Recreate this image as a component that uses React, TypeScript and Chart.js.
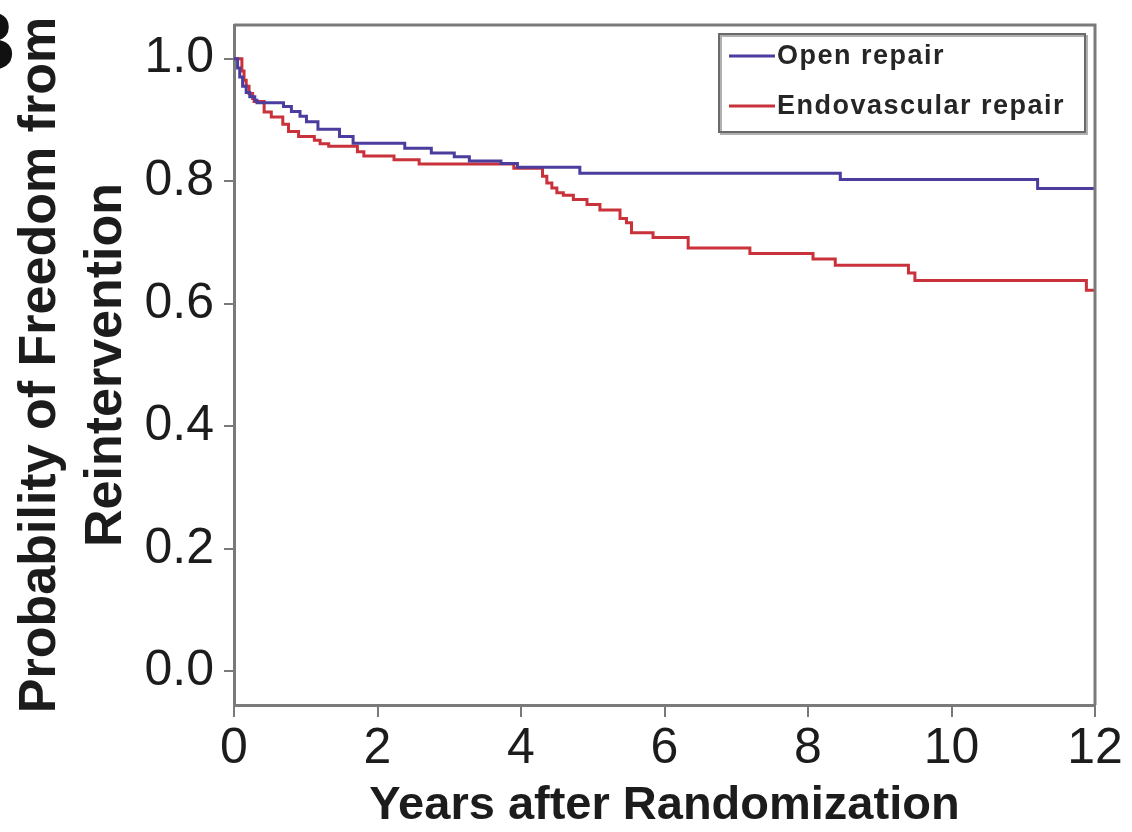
import React, { useEffect, useRef } from "react";
import { Chart, registerables } from "chart.js";

Chart.register(...registerables);

// ---- data (Kaplan-Meier step values) ----
const seriesNames = ["Open repair", "Endovascular repair"];

const openTimes = [0, 0.05, 0.08, 0.12, 0.17, 0.22, 0.29, 0.32, 0.69, 0.8, 0.92, 1.01, 1.17, 1.47, 1.66, 2.38, 2.75, 3.07, 3.28, 3.72, 3.95, 4.82, 8.45, 11.2, 12];
const openSurv = [1.0, 0.985, 0.97, 0.955, 0.945, 0.938, 0.932, 0.928, 0.922, 0.914, 0.906, 0.897, 0.885, 0.873, 0.862, 0.854, 0.846, 0.84, 0.833, 0.829, 0.823, 0.813, 0.803, 0.788, 0.788];

const endoTimes = [0, 0.11, 0.14, 0.17, 0.21, 0.26, 0.28, 0.42, 0.52, 0.68, 0.76, 0.9, 1.12, 1.2, 1.32, 1.72, 1.81, 2.23, 2.58, 3.9, 4.3, 4.36, 4.43, 4.5, 4.59, 4.73, 4.92, 5.1, 5.38, 5.47, 5.54, 5.84, 6.33, 7.19, 8.07, 8.38, 9.4, 9.49, 11.88, 12];
const endoSurv = [1.0, 0.98, 0.965, 0.955, 0.943, 0.935, 0.93, 0.913, 0.905, 0.893, 0.881, 0.873, 0.867, 0.861, 0.857, 0.848, 0.841, 0.835, 0.828, 0.821, 0.808, 0.797, 0.789, 0.781, 0.777, 0.77, 0.762, 0.753, 0.739, 0.732, 0.716, 0.708, 0.691, 0.682, 0.673, 0.663, 0.65, 0.638, 0.622, 0.622];

const xTicks = [0, 2, 4, 6, 8, 10, 12];
const yTicks = [0, 0.2, 0.4, 0.6, 0.8, 1.0];
const xTitle = "Years after Randomization";
const yTitle = ["Probability of Freedom from", "Reintervention"];
const panelLabel = "B";

// ---- styles ----
const BLUE = "#4a3d9e";
const RED = "#c9323b";
const AXIS = "#7a7a7a";
const TEXT = "#1c1c1c";
const FONT = '"Liberation Sans", Arial, Helvetica, sans-serif';
const COLORS = [BLUE, RED];

const decorPlugin = {
  id: "decor",
  afterDraw(chart: any) {
    const { ctx, chartArea: a } = chart;
    ctx.save();
    // top and right frame
    ctx.strokeStyle = AXIS;
    ctx.lineWidth = 3;
    ctx.beginPath();
    ctx.moveTo(a.left, a.top);
    ctx.lineTo(a.right, a.top);
    ctx.lineTo(a.right, a.bottom);
    ctx.stroke();

    // legend box
    const bw = 366;
    const bh = 98;
    const bx = a.right - 10 - bw;
    const by = a.top + 9;
    ctx.fillStyle = "#ffffff";
    ctx.fillRect(bx, by, bw, bh);
    ctx.strokeStyle = "#b0b0b0";
    ctx.lineWidth = 2;
    ctx.strokeRect(bx + 2, by + 2, bw, bh);
    ctx.strokeStyle = "#6a6a6a";
    ctx.lineWidth = 2;
    ctx.strokeRect(bx, by, bw, bh);

    ctx.font = `bold 27px ${FONT}`;
    (ctx as any).letterSpacing = "1.5px";
    ctx.textBaseline = "middle";
    ctx.textAlign = "left";
    seriesNames.forEach((name, i) => {
      const y = by + 22 + i * 50;
      ctx.strokeStyle = COLORS[i];
      ctx.lineWidth = 3;
      ctx.beginPath();
      ctx.moveTo(bx + 10, y);
      ctx.lineTo(bx + 56, y);
      ctx.stroke();
      ctx.fillStyle = "#262626";
      ctx.fillText(name, bx + 58, y + 1);
    });
    (ctx as any).letterSpacing = "0px";

    // cropped panel letter
    ctx.fillStyle = "#111";
    ctx.font = `bold 84px ${FONT}`;
    ctx.textAlign = "right";
    ctx.textBaseline = "alphabetic";
    ctx.fillText(panelLabel, 16, 70);
    ctx.restore();
  },
};

export default function App() {
  const ref = useRef<HTMLCanvasElement>(null);

  useEffect(() => {
    if (!ref.current) return;
    const chart = new Chart(ref.current, {
      type: "line",
      data: {
        datasets: [
          {
            label: seriesNames[0],
            data: openTimes.map((t, i) => ({ x: t, y: openSurv[i] })),
            borderColor: BLUE,
            borderWidth: 3,
            stepped: "before",
            pointRadius: 0,
            fill: false,
          },
          {
            label: seriesNames[1],
            data: endoTimes.map((t, i) => ({ x: t, y: endoSurv[i] })),
            borderColor: RED,
            borderWidth: 3,
            stepped: "before",
            pointRadius: 0,
            fill: false,
          },
        ],
      },
      options: {
        animation: false,
        responsive: true,
        maintainAspectRatio: false,
        layout: { padding: { left: 0, right: 37, top: 25, bottom: 0 } },
        plugins: { legend: { display: false }, tooltip: { enabled: false } },
        scales: {
          x: {
            type: "linear",
            min: 0,
            max: 12,
            afterBuildTicks: (s: any) => {
              s.ticks = xTicks.map((v) => ({ value: v }));
            },
            afterFit: (s: any) => {
              s.height = 127;
              s.paddingLeft = 0;
              s.paddingRight = 0;
            },
            ticks: {
              font: { family: FONT, size: 50 },
              color: TEXT,
              padding: 2,
              maxRotation: 0,
              autoSkip: false,
            },
            grid: { drawOnChartArea: false, drawTicks: true, tickLength: 12, color: AXIS, lineWidth: 2 },
            border: { display: true, color: AXIS, width: 3 },
            title: {
              display: true,
              text: xTitle,
              color: TEXT,
              font: { family: FONT, size: 47, weight: "bold", lineHeight: 1.12 },
              padding: { top: 0, bottom: 0 },
            },
          },
          y: {
            type: "linear",
            min: -0.055,
            max: 1.055,
            afterBuildTicks: (s: any) => {
              s.ticks = yTicks.map((v) => ({ value: v }));
            },
            afterFit: (s: any) => {
              s.width = 234;
              s.paddingTop = 0;
              s.paddingBottom = 0;
            },
            ticks: {
              font: { family: FONT, size: 50 },
              color: TEXT,
              padding: 10,
              callback: (v: any) => Number(v).toFixed(1),
            },
            grid: { drawOnChartArea: false, drawTicks: true, tickLength: 10, color: AXIS, lineWidth: 2 },
            border: { display: true, color: AXIS, width: 3 },
            title: {
              display: true,
              text: yTitle,
              color: TEXT,
              font: { family: FONT, size: 52, weight: "bold", lineHeight: 1.263 },
              padding: { top: 8, bottom: 0 },
            },
          },
        },
      },
      plugins: [decorPlugin],
    });
    return () => chart.destroy();
  }, []);

  return (
    <div style={{ position: "absolute", left: 0, top: 0, width: 1132, height: 832, background: "#fff" }}>
      <canvas ref={ref} />
    </div>
  );
}
